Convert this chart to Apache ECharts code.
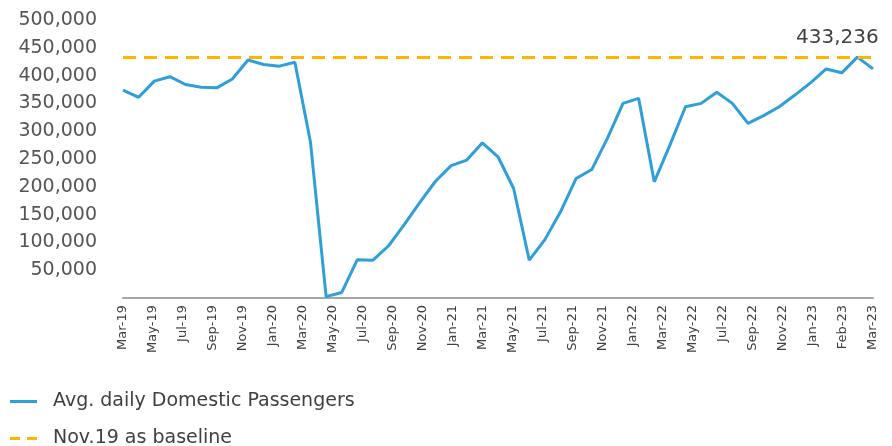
<!DOCTYPE html>
<html>
<head>
<meta charset="utf-8">
<script src="https://cdn.jsdelivr.net/npm/echarts@6/dist/echarts.min.js"></script>
<style>
  html, body { margin: 0; padding: 0; background: #fff; }
  #chart { width: 892px; height: 446px; }
</style>
</head>
<body>
<div id="chart"></div>
<script>
// one point per month, Mar-19 .. Mar-23
var months = ['Mar-19','Apr-19','May-19','Jun-19','Jul-19','Aug-19','Sep-19','Oct-19','Nov-19','Dec-19',
  'Jan-20','Feb-20','Mar-20','Apr-20','May-20','Jun-20','Jul-20','Aug-20','Sep-20','Oct-20','Nov-20','Dec-20',
  'Jan-21','Feb-21','Mar-21','Apr-21','May-21','Jun-21','Jul-21','Aug-21','Sep-21','Oct-21','Nov-21','Dec-21',
  'Jan-22','Feb-22','Mar-22','Apr-22','May-22','Jun-22','Jul-22','Aug-22','Sep-22','Oct-22','Nov-22','Dec-22',
  'Jan-23','Feb-23','Mar-23'];
var passengers = [374000, 361000, 390000, 398000, 384000, 379000, 378000, 394000, 428000, 420000,
  417000, 424000, 280000, 2500, 10000, 69000, 68000, 94000, 132000, 172000, 210000, 238000,
  248000, 279000, 254000, 197000, 68000, 105000, 155000, 215000, 231000, 287000, 350000, 359000,
  209000, 275000, 344000, 350000, 370000, 350000, 314000, 328000, 344000, 365000, 387000, 412000,
  405000, 433236, 412000];
// labels printed under the axis (as in the source chart)
var tickLabels = ['Mar-19','May-19','Jul-19','Sep-19','Nov-19','Jan-20','Mar-20','May-20','Jul-20',
  'Sep-20','Nov-20','Jan-21','Mar-21','May-21','Jul-21','Sep-21','Nov-21','Jan-22','Mar-22',
  'May-22','Jul-22','Sep-22','Nov-22','Jan-23','Feb-23','Mar-23'];
var baseline = 433236;

var FONT = 'DejaVu Sans';
var BLUE = '#2e9fd9';
var ORANGE = '#ffb400';
var fmt = function (v) { return Number(v).toLocaleString('en-US'); };

var myChart = echarts.init(document.getElementById('chart'));
var option = {
  animation: false,
  grid: { left: 123, right: 19, top: 20, bottom: 148, outerBoundsMode: 'none' },
  legend: {
    orient: 'vertical', left: 10, top: 392, height: 80, padding: 0,
    itemWidth: 27, itemHeight: 3, itemGap: 18,
    textStyle: { fontFamily: FONT, fontSize: 19, color: '#404040', padding: [0, 0, 0, 11] },
    data: [
      { name: 'Avg. daily Domestic Passengers', icon: 'path://M0,0h27v3h-27z' },
      { name: 'Nov.19 as baseline', icon: 'path://M0,0h10v3h-10z M17,0h10v3h-10z' }
    ]
  },
  xAxis: [{
    // visible axis: line + printed labels
    type: 'category', data: tickLabels, boundaryGap: false,
    axisLine: { lineStyle: { color: '#a6a6a6', width: 2 } },
    axisTick: { show: false },
    axisLabel: { rotate: 90, interval: 0, margin: 7, fontFamily: FONT, fontSize: 13, color: '#404040' },
    splitLine: { show: false }
  }, {
    // monthly axis used by the data
    type: 'category', data: months, boundaryGap: false, show: false
  }],
  yAxis: {
    type: 'value', min: 0, max: 500000, interval: 50000,
    axisLine: { show: false }, axisTick: { show: false }, splitLine: { show: false },
    axisLabel: {
      margin: 26, fontFamily: FONT, fontSize: 19, color: '#555555',
      formatter: function (v) { return v === 0 ? '' : fmt(v); }
    }
  },
  series: [{
    name: 'Avg. daily Domestic Passengers',
    type: 'line', xAxisIndex: 1, data: passengers,
    symbol: 'none',
    lineStyle: { color: BLUE, width: 3 },
    itemStyle: { color: BLUE },
    markPoint: {
      silent: true, symbol: 'circle', symbolSize: 0,
      label: {
        show: true, position: 'top', offset: [-20, -4],
        formatter: function (p) { return fmt(p.value); },
        fontFamily: FONT, fontSize: 20, color: '#404040'
      },
      data: [{ type: 'max' }]
    },
    z: 3
  }, {
    name: 'Nov.19 as baseline',
    type: 'line', xAxisIndex: 1, data: [],
    symbol: 'none',
    lineStyle: { color: ORANGE, width: 3, type: [10, 7] },
    itemStyle: { color: ORANGE },
    markLine: {
      silent: true, symbol: ['none', 'none'],
      label: { show: false },
      lineStyle: { color: ORANGE, width: 3, type: [13, 8] },
      data: [{ yAxis: baseline }]
    },
    z: 2
  }]
};
myChart.setOption(option);
</script>
</body>
</html>
